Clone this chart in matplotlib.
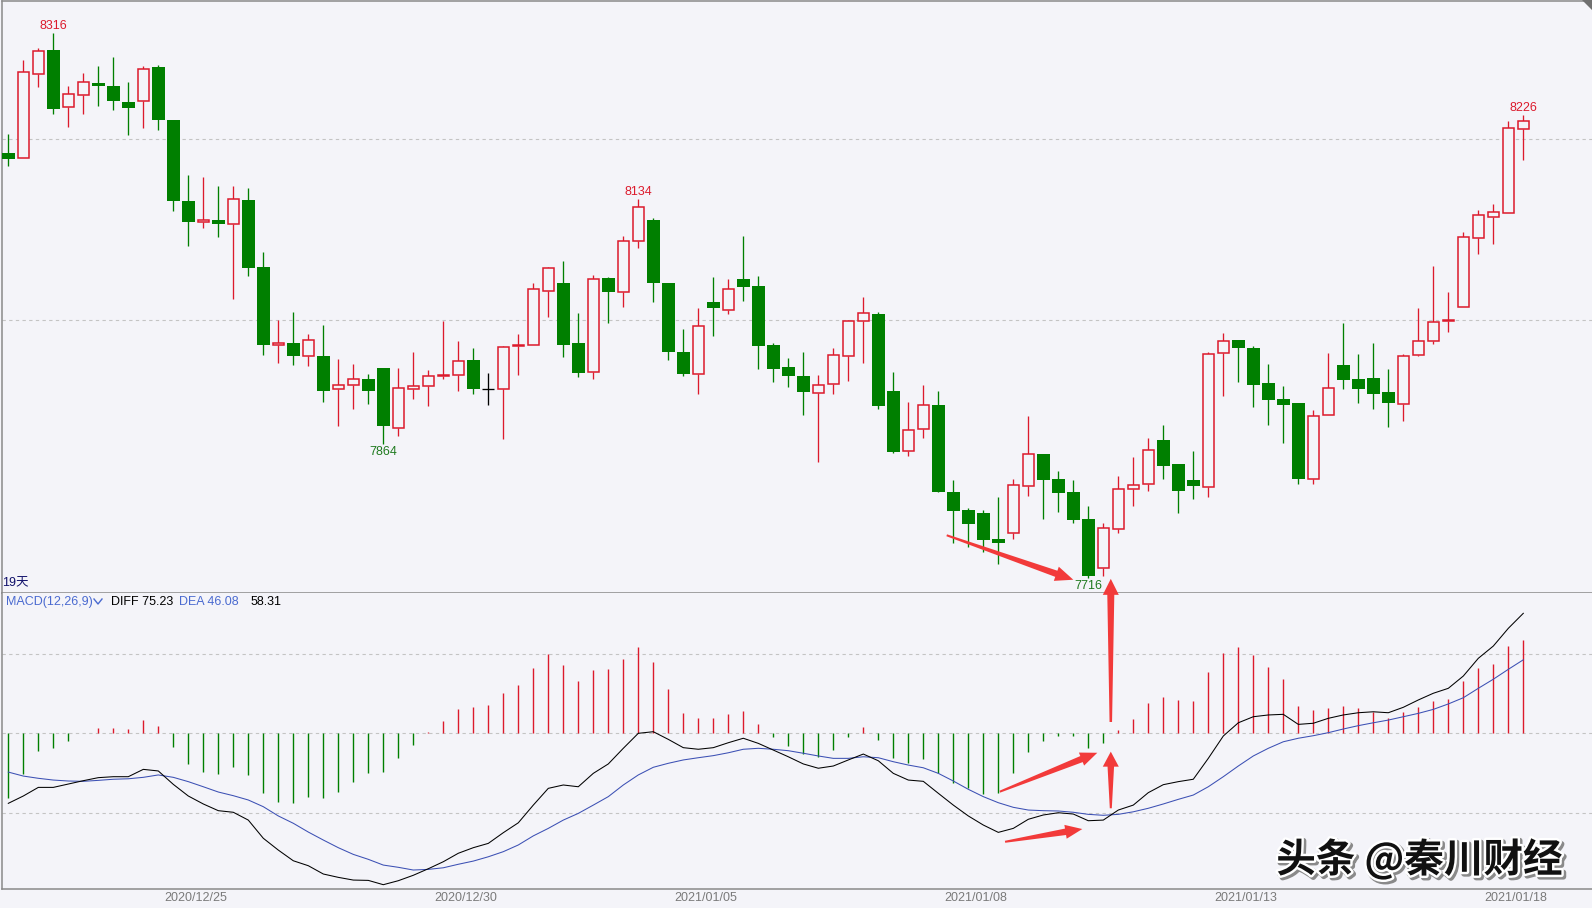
import numpy as np
import matplotlib
matplotlib.use("Agg")
import matplotlib.pyplot as plt
import matplotlib.patheffects as pe
from matplotlib.patches import Polygon
from matplotlib.lines import Line2D

plt.rcParams["font.family"] = ["Liberation Sans", "Noto Sans CJK SC", "DejaVu Sans"]

BG = "#f4f4f9"
RED = "#dc1a2c"
GREEN = "#007f00"
BLUE = "#3c50b4"
TXT_BLUE = "#4a6ad0"
ARROW = "#f23a3a"
FRAME = "#8a8a8a"
GRID = "#c4c4c4"

W, H = 1592, 908

# candles (one per bar)
opens = [8184, 8179, 8271, 8298, 8235, 8248, 8261, 8258, 8240, 8241,
         8279, 8220, 8131, 8108, 8110, 8106, 8132, 8059, 7973, 7975,
         7961, 7960, 7924, 7929, 7935, 7947, 7881, 7924, 7927, 7939,
         7940, 7956, 7924, 7924, 7971, 7973, 8032, 8041, 7975, 7943,
         8046, 8031, 8087, 8110, 8041, 7965, 7941, 8020, 8011, 8045,
         8038, 7973, 7948, 7938, 7920, 7930, 7961, 7999, 8007, 7922,
         7856, 7880, 7906, 7811, 7791, 7788, 7759, 7766, 7817, 7853,
         7825, 7811, 7781, 7727, 7770, 7814, 7819, 7868, 7842, 7824,
         7816, 7964, 7978, 7969, 7931, 7913, 7909, 7825, 7895, 7951,
         7935, 7936, 7921, 7908, 7962, 7977, 7999, 8014, 8091, 8114,
         8118, 8211]
highs = [8205, 8287, 8300, 8316, 8258, 8272, 8280, 8290, 8262, 8280,
         8281, 8220, 8160, 8158, 8148, 8148, 8146, 8075, 8000, 8009,
         7985, 7995, 7957, 7952, 7941, 7947, 7947, 7965, 7945, 7999,
         7977, 7969, 7942, 7972, 7985, 8041, 8059, 8065, 8008, 8050,
         8048, 8093, 8134, 8113, 8041, 7990, 8013, 8048, 8045, 8093,
         8049, 7975, 7958, 7965, 7940, 7969, 8000, 8026, 8009, 7943,
         7910, 7929, 7922, 7824, 7793, 7791, 7805, 7825, 7894, 7853,
         7834, 7824, 7795, 7777, 7828, 7849, 7870, 7885, 7842, 7856,
         7965, 7986, 7978, 7971, 7952, 7927, 7909, 7901, 7964, 7997,
         7963, 7975, 7946, 7963, 8013, 8060, 8031, 8097, 8121, 8128,
         8219, 8226]
lows = [8170, 8179, 8257, 8227, 8213, 8227, 8236, 8231, 8204, 8212,
        8209, 8120, 8082, 8102, 8092, 8023, 8049, 7962, 7953, 7951,
        7950, 7910, 7883, 7902, 7908, 7864, 7872, 7913, 7905, 7935,
        7922, 7919, 7907, 7869, 7940, 7973, 8003, 7959, 7937, 7935,
        7997, 8014, 8080, 8020, 7956, 7939, 7919, 7983, 8007, 8021,
        7946, 7932, 7926, 7895, 7844, 7919, 7933, 7953, 7902, 7854,
        7850, 7870, 7811, 7755, 7750, 7745, 7731, 7759, 7806, 7781,
        7789, 7776, 7716, 7718, 7766, 7795, 7812, 7825, 7787, 7803,
        7805, 7916, 7932, 7904, 7884, 7865, 7819, 7820, 7895, 7924,
        7909, 7902, 7882, 7889, 7960, 7974, 7987, 8014, 8073, 8084,
        8118, 8176]
closes = [8178, 8273, 8296, 8233, 8249, 8262, 8258, 8241, 8234, 8277,
          8220, 8131, 8108, 8110, 8106, 8133, 8058, 7973, 7975, 7961,
          7978, 7922, 7929, 7935, 7922, 7883, 7925, 7927, 7939, 7940,
          7955, 7924, 7924, 7970, 7973, 8034, 8057, 7973, 7942, 8045,
          8031, 8087, 8125, 8041, 7965, 7941, 7994, 8013, 8034, 8037,
          7971, 7946, 7938, 7921, 7929, 7962, 7999, 8008, 7905, 7855,
          7879, 7906, 7811, 7790, 7775, 7758, 7754, 7818, 7853, 7824,
          7810, 7780, 7718, 7771, 7814, 7818, 7857, 7839, 7812, 7817,
          7963, 7977, 7969, 7929, 7912, 7907, 7825, 7894, 7925, 7934,
          7924, 7919, 7909, 7960, 7977, 7998, 8000, 8092, 8116, 8119,
          8212, 8219]

# MACD(12,26,9)
diff = [-43.9, -39.3, -33.9, -33.9, -31.8, -29.7, -27.8, -27.2, -27.2, -22.6,
        -23.6, -32.0, -39.3, -44.3, -48.5, -49.5, -54.4, -65.8, -73.2, -79.9,
        -83.0, -88.2, -90.3, -92.0, -92.2, -94.9, -92.4, -89.0, -84.9, -80.5,
        -75.2, -71.7, -69.0, -62.3, -56.1, -45.0, -34.5, -32.4, -33.5, -25.1,
        -19.2, -9.4, 0.0, 1.0, -3.8, -9.0, -10.0, -9.0, -5.9, -3.1,
        -6.3, -10.5, -14.7, -19.2, -21.9, -20.5, -16.7, -13.0, -17.2, -25.1,
        -29.3, -30.1, -37.6, -45.0, -51.8, -57.5, -62.1, -59.6, -53.9, -51.2,
        -49.8, -50.6, -54.8, -54.4, -48.1, -45.0, -37.2, -32.2, -30.3, -28.8,
        -15.7, -1.7, 6.6, 10.4, 11.5, 11.9, 5.6, 6.3, 9.4, 11.5,
        12.9, 13.5, 12.9, 16.3, 20.9, 25.1, 28.2, 35.9, 47.0, 54.7,
        65.8, 75.23]
dea = [-24.3, -26.8, -28.2, -29.3, -29.9, -30.1, -29.5, -28.8, -28.5, -27.6,
       -26.1, -27.6, -30.3, -33.5, -36.8, -39.1, -41.8, -46.0, -51.8, -56.4,
       -61.9, -66.9, -71.7, -75.9, -79.0, -82.6, -84.0, -85.7, -85.3, -84.3,
       -82.1, -80.1, -77.4, -74.2, -70.0, -64.3, -59.6, -54.4, -50.2, -45.0,
       -39.7, -32.4, -26.1, -21.3, -18.8, -16.7, -15.3, -14.0, -12.2, -10.0,
       -9.4, -10.0, -10.9, -12.5, -14.2, -15.7, -15.7, -14.7, -15.3, -17.8,
       -19.9, -21.6, -25.1, -29.9, -35.1, -39.7, -43.5, -46.4, -48.1, -48.5,
       -48.7, -49.5, -50.8, -51.4, -50.8, -49.2, -47.0, -44.3, -41.4, -38.7,
       -33.5, -27.2, -20.5, -14.2, -9.4, -5.3, -3.1, -1.5, 0.4, 2.7,
       4.8, 6.6, 8.3, 10.4, 12.5, 15.0, 18.4, 22.3, 28.2, 33.9,
       40.1, 46.08]
macd_hist = [-40.8, -25.5, -10.9, -9.0, -4.6, 0.0, 3.1, 3.1, 2.5, 8.3,
             4.6, -8.4, -19.1, -24.1, -25.3, -20.9, -25.9, -37.7, -42.9, -43.9,
             -39.7, -40.4, -36.6, -30.4, -25.0, -24.4, -15.3, -7.2, 0.6, 7.7,
             15.2, 16.7, 17.8, 25.0, 30.3, 41.1, 49.8, 42.8, 32.8, 39.7,
             40.3, 46.5, 53.9, 44.7, 27.8, 12.5, 9.6, 9.6, 12.1, 14.0,
             5.9, -2.1, -7.8, -13.0, -14.6, -10.5, -2.1, 4.1, -4.2, -15.3,
             -18.5, -16.2, -25.0, -31.4, -34.5, -38.1, -37.2, -25.0, -11.5, -4.6,
             -1.5, -1.5, -9.4, -5.9, 2.0, 9.0, 18.8, 22.6, 20.9, 20.1,
             38.3, 50.2, 53.9, 48.9, 41.4, 34.0, 17.2, 14.6, 16.0, 17.2,
             15.8, 13.5, 9.6, 13.3, 16.5, 20.3, 21.5, 33.0, 41.0, 43.4,
             54.7, 58.31]

date_labels = ["2020/12/25", "2020/12/30", "2021/01/05", "2021/01/08", "2021/01/13", "2021/01/18"]
date_pos = [12.5, 30.5, 46.5, 64.5, 82.5, 100.5]

peak_idx = [3, 42, 101]
trough_idx = [25, 72]


def fx(px):
    return px / W


def fy(py):
    return 1 - py / H


def style_panel(ax, spines):
    ax.set_facecolor(BG)
    for name, sp in ax.spines.items():
        sp.set_visible(name in spines)
        sp.set_color(FRAME)
        sp.set_linewidth(1.1)
    ax.set_yticks([])


def draw_arrow(ax_from, p_from, ax_to, p_to, w_tail=2.0, w_neck=6.5, head_w=15.0, head_len=18.0):
    # tapered red arrow, built in pixel space
    t = ax_from.transData.transform(p_from)
    p = ax_to.transData.transform(p_to)
    d = p - t
    u = d / np.hypot(*d)
    nrm = np.array([-u[1], u[0]])
    neck = p - u * head_len
    pts = [t + nrm * w_tail / 2, neck + nrm * w_neck / 2, neck + nrm * head_w / 2, p,
           neck - nrm * head_w / 2, neck - nrm * w_neck / 2, t - nrm * w_tail / 2]
    pts = fig.transFigure.inverted().transform(np.array(pts))
    fig.add_artist(Polygon(pts, closed=True, transform=fig.transFigure,
                           facecolor=ARROW, edgecolor="none", zorder=20))


fig = plt.figure(figsize=(W / 100, H / 100), dpi=100, facecolor=BG)

ax1 = fig.add_axes([fx(1.5), fy(593), 1 - fx(1.5), (593 - 1.3) / H])
ax2 = fig.add_axes([fx(1.5), fy(889), 1 - fx(1.5), (889 - 593) / H])

xlim = ((1.5 - 8.3) / 15, (W - 8.3) / 15)

#
# price panel
#
style_panel(ax1, ["top", "left", "bottom"])
ax1.set_xticks([])
ax1.set_xlim(*xlim)
ax1.set_ylim(7699.4, 8351.3)
for lvl in (8200, 8000):
    ax1.axhline(lvl, color=GRID, lw=0.8, ls=(0, (3, 3)), zorder=0)

o = np.array(opens)
hi = np.array(highs)
lo = np.array(lows)
c = np.array(closes)
x = np.arange(len(o))

up = c > o
dn = c < o
flat = c == o

# wicks
ax1.vlines(x[dn], lo[dn], hi[dn], color=GREEN, lw=0.95, zorder=2)
ax1.vlines(x[up], c[up], hi[up], color=RED, lw=0.95, zorder=2)
ax1.vlines(x[up], lo[up], o[up], color=RED, lw=0.95, zorder=2)
ax1.vlines(x[flat], lo[flat], hi[flat], color="black", lw=0.95, zorder=2)
ax1.hlines(o[flat], x[flat] - 0.4, x[flat] + 0.4, color="black", lw=0.95, zorder=2)

# bodies
ax1.bar(x[dn], o[dn] - c[dn], bottom=c[dn], width=0.84, color=GREEN, lw=0, zorder=3)
ax1.bar(x[up], c[up] - o[up], bottom=o[up], width=0.72, facecolor=BG,
        edgecolor=RED, lw=1.1, zorder=3)

for i in peak_idx:
    ax1.annotate(str(highs[i]), (i, highs[i]), xytext=(0, 5), textcoords="offset points",
                 ha="center", va="center", color=RED, fontsize=9)
for i in trough_idx:
    ax1.annotate(str(lows[i]), (i, lows[i]), xytext=(0, -6), textcoords="offset points",
                 ha="center", va="center", color="#1f7a1f", fontsize=9)

#
# MACD panel
#
style_panel(ax2, ["left", "bottom"])
ax2.set_xlim(*xlim)
ax2.set_ylim(-97.6, 87.96)
for lvl in (50, 0, -50):
    ax2.axhline(lvl, color=GRID, lw=0.8, ls=(0, (3, 3)), zorder=0)

hist = np.array(macd_hist)
bar_colors = [RED if v > 0 else GREEN for v in hist]
ax2.vlines(x, 0, hist, colors=bar_colors, lw=1.0, zorder=2)
ax2.plot(x, dea, color=BLUE, lw=0.75, zorder=3)
ax2.plot(x, diff, color="black", lw=0.75, zorder=4)

ax2.set_xticks(date_pos)
ax2.set_xticklabels(date_labels, color="#7a7a7a", fontsize=9)
ax2.tick_params(axis="x", length=0, pad=2)

# header texts
fig.text(fx(2), fy(583.3), "19天", color="#10106a", fontsize=9, va="center", ha="left")
fig.text(fx(6.2), fy(601.7), "MACD(12,26,9)", color=TXT_BLUE, fontsize=9, va="center")
fig.add_artist(Line2D([fx(94), fx(98), fx(102)], [fy(599), fy(604), fy(599)],
                      transform=fig.transFigure, color=TXT_BLUE, lw=1.0))
fig.text(fx(110.9), fy(601.7), "DIFF 75.23", color="black", fontsize=9, va="center")
fig.text(fx(179), fy(601.7), "DEA 46.08", color=TXT_BLUE, fontsize=9, va="center")
fig.text(fx(250.3), fy(601.7), "58.31", color="black", fontsize=9, va="center")

# corner grip
fig.add_artist(Polygon([[fx(1582), fy(0)], [fx(1592), fy(0)], [fx(1592), fy(10)]],
                       closed=True, transform=fig.transFigure, facecolor="#707070",
                       edgecolor="none"))

# red annotation arrows
draw_arrow(ax1, (62.56, 7763), ax1, (71.0, 7714))
draw_arrow(ax2, (73.5, 7.1), ax1, (73.5, 7715), w_tail=2.5, w_neck=7.0, head_w=16, head_len=16)
draw_arrow(ax2, (73.5, -47.0), ax2, (73.5, -11.5), w_tail=2.0, w_neck=6.5, head_w=16, head_len=15)
draw_arrow(ax2, (66.1, -36.6), ax2, (72.6, -12.2), w_tail=2.0, w_neck=6.5, head_w=14, head_len=17)
draw_arrow(ax2, (66.45, -68.0), ax2, (71.6, -60.0), w_tail=2.0, w_neck=6.5, head_w=14, head_len=17)

# watermark
fig.text(fx(1419.5), fy(860), "头条 @秦川财经", fontsize=28.5, ha="center", va="center",
         family=["Noto Sans CJK SC", "DejaVu Sans"], weight="bold", color="#111111", zorder=30,
         path_effects=[pe.Stroke(linewidth=4, foreground="#8a8a8a", offset=(1.5, -1.5)),
                       pe.Stroke(linewidth=3.5, foreground="white"),
                       pe.Normal()])

fig.savefig("out.png", dpi=100, facecolor=BG)
